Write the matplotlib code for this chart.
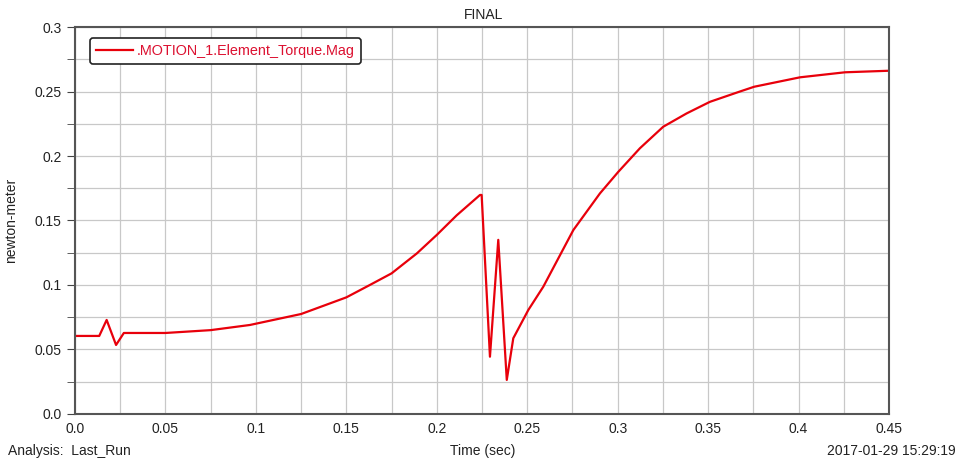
#!/usr/bin/env python3
"""Torque magnitude vs time (FINAL)."""

import matplotlib
matplotlib.use("Agg")
import matplotlib.pyplot as plt
from matplotlib.ticker import MultipleLocator

plt.rcParams["font.family"] = ["Liberation Sans", "DejaVu Sans"]

# values
time_s = [0.0, 0.0134, 0.0175, 0.0227, 0.027, 0.05, 0.075, 0.0967, 0.125,
          0.15, 0.163, 0.175, 0.189, 0.2, 0.211, 0.2239, 0.2248, 0.2294,
          0.234, 0.2387, 0.2423, 0.2506, 0.2589, 0.2755, 0.2902, 0.3004,
          0.3123, 0.3252, 0.3381, 0.351, 0.3676, 0.3755, 0.4008, 0.4257, 0.45]
torque = [0.0605, 0.0605, 0.0729, 0.0535, 0.0628, 0.0628, 0.065, 0.069,
          0.0775, 0.0904, 0.1, 0.109, 0.1245, 0.1388, 0.154, 0.1698, 0.1698,
          0.0444, 0.135, 0.0264, 0.0587, 0.0806, 0.0987, 0.1426, 0.171,
          0.1878, 0.206, 0.2227, 0.233, 0.242, 0.25, 0.2537, 0.261, 0.2649,
          0.2661]
series_name = ".MOTION_1.Element_Torque.Mag"

fig = plt.figure(figsize=(9.59, 4.61), dpi=100)
ax = fig.add_axes([0.0782, 0.102, 0.8488, 0.8394])

ax.plot(time_s, torque, color="#e8000b", lw=1.6, label=series_name)

ax.set_xlim(0, 0.45)
ax.set_ylim(0, 0.3)
ax.xaxis.set_major_locator(MultipleLocator(0.05))
ax.xaxis.set_minor_locator(MultipleLocator(0.025))
ax.yaxis.set_major_locator(MultipleLocator(0.05))
ax.yaxis.set_minor_locator(MultipleLocator(0.025))
ax.set_xticklabels([f"{v:g}" if v else "0.0" for v in ax.get_xticks()])
ax.set_yticklabels([f"{v:g}" if v else "0.0" for v in ax.get_yticks()])
ax.grid(which="both", color="#c8c8c8", lw=0.9)
ax.set_axisbelow(True)
ax.tick_params(which="both", direction="out", color="#444444", labelsize=10,
               labelcolor="#222222")
ax.tick_params(which="major", length=6)
ax.tick_params(which="minor", length=6)
ax.tick_params(axis="x", which="both", length=0, pad=6)
for sp in ax.spines.values():
    sp.set_color("#555555")
    sp.set_linewidth(1.5)

ax.set_ylabel("newton-meter", fontsize=10, color="#222222", labelpad=12)
fig.text(0.504, 0.968, "FINAL", ha="center", va="center", fontsize=10,
         color="#222222")
fig.text(0.008, 0.022, "Analysis:  Last_Run", ha="left", va="center",
         fontsize=10, color="#222222")
fig.text(0.503, 0.022, "Time (sec)", ha="center", va="center", fontsize=10,
         color="#222222")
fig.text(0.996, 0.022, "2017-01-29 15:29:19", ha="right", va="center",
         fontsize=10, color="#222222")

leg = ax.legend(loc="upper left", bbox_to_anchor=(0.0184, 0.971),
                fontsize=10.4, frameon=True, fancybox=True, handlelength=2.6,
                borderpad=0.4, handletextpad=0.25, borderaxespad=0)
leg.get_frame().set_edgecolor("#222222")
leg.get_frame().set_linewidth(1.2)
leg.get_frame().set_alpha(1)
for t in leg.get_texts():
    t.set_color("#dc1030")

fig.savefig("out.png", dpi=100)
